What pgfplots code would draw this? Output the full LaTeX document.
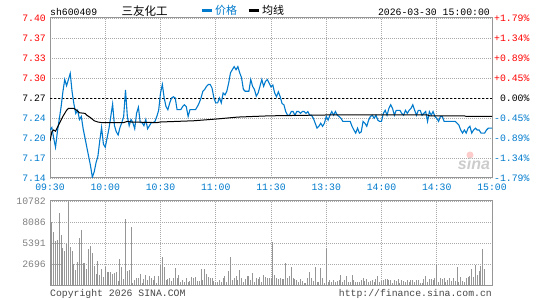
\documentclass[border=0pt]{standalone}
\usepackage{fontspec}
\setmainfont{Liberation Mono}
\newfontfamily\cjk{Noto Sans CJK SC}
\newfontfamily\sinaf{Liberation Sans}
\usepackage{pgfplots}
\pgfplotsset{compat=1.18}
\usepackage{pgfplotstable}
\definecolor{sblue}{RGB}{0,122,204}
\definecolor{sred}{RGB}{255,0,0}
\definecolor{sgrid}{RGB}{170,170,170}
\definecolor{sframe}{RGB}{150,150,150}
\definecolor{svol}{RGB}{150,150,150}
\definecolor{sgray}{RGB}{128,128,128}
\definecolor{sfoot}{RGB}{70,70,70}
\newcommand\lf{\fontsize{9.8bp}{11bp}\selectfont}
\newcommand\rl[1]{\makebox[35.3bp][r]{#1}}

\pgfplotstableread{
t p
0 7.218
1 7.222
2 7.205
3 7.190
4 7.215
5 7.235
6 7.255
7 7.280
8 7.300
9 7.290
10 7.300
11 7.310
12 7.280
13 7.260
14 7.245
15 7.250
16 7.235
17 7.240
18 7.220
19 7.205
20 7.190
21 7.175
22 7.160
23 7.141
24 7.150
25 7.165
26 7.175
27 7.200
28 7.222
29 7.195
30 7.190
31 7.205
32 7.220
33 7.240
34 7.260
35 7.225
36 7.215
37 7.210
38 7.222
39 7.230
40 7.240
41 7.283
42 7.240
43 7.225
44 7.235
45 7.230
46 7.220
47 7.245
48 7.255
49 7.230
50 7.230
51 7.225
52 7.235
53 7.220
54 7.225
55 7.230
56 7.230
57 7.232
58 7.240
59 7.250
60 7.278
61 7.292
62 7.270
63 7.256
64 7.251
65 7.262
66 7.270
67 7.272
68 7.270
69 7.251
70 7.251
71 7.251
72 7.256
73 7.259
74 7.256
75 7.240
76 7.251
77 7.251
78 7.251
79 7.251
80 7.256
81 7.262
82 7.270
83 7.281
84 7.284
85 7.289
86 7.292
87 7.292
88 7.286
89 7.270
90 7.262
91 7.262
92 7.270
93 7.262
94 7.278
95 7.275
96 7.281
97 7.294
98 7.311
99 7.316
100 7.321
101 7.316
102 7.321
103 7.311
104 7.303
105 7.284
106 7.281
107 7.281
108 7.281
109 7.300
110 7.289
111 7.284
112 7.273
113 7.278
114 7.289
115 7.300
116 7.289
117 7.297
118 7.300
119 7.294
120 7.288
121 7.291
122 7.278
123 7.272
124 7.280
125 7.272
126 7.261
127 7.259
128 7.248
129 7.242
130 7.242
131 7.248
132 7.248
133 7.242
134 7.248
135 7.248
136 7.245
137 7.248
138 7.248
139 7.245
140 7.248
141 7.242
142 7.242
143 7.237
144 7.229
145 7.221
146 7.224
147 7.229
148 7.224
149 7.229
150 7.240
151 7.234
152 7.242
153 7.248
154 7.242
155 7.248
156 7.242
157 7.240
158 7.237
159 7.232
160 7.232
161 7.232
162 7.232
163 7.232
164 7.224
165 7.218
166 7.213
167 7.221
168 7.213
169 7.215
170 7.232
171 7.229
172 7.224
173 7.234
174 7.240
175 7.242
176 7.237
177 7.242
178 7.234
179 7.232
180 7.232
181 7.245
182 7.250
183 7.242
184 7.253
185 7.259
186 7.253
187 7.242
188 7.250
189 7.250
190 7.250
191 7.245
192 7.242
193 7.250
194 7.245
195 7.250
196 7.253
197 7.259
198 7.250
199 7.242
200 7.250
201 7.250
202 7.242
203 7.245
204 7.248
205 7.232
206 7.248
207 7.242
208 7.248
209 7.240
210 7.237
211 7.232
212 7.240
213 7.240
214 7.232
215 7.232
216 7.232
217 7.232
218 7.232
219 7.232
220 7.232
221 7.229
222 7.226
223 7.218
224 7.213
225 7.218
226 7.213
227 7.221
228 7.224
229 7.213
230 7.218
231 7.221
232 7.218
233 7.218
234 7.213
235 7.213
236 7.213
237 7.218
238 7.221
239 7.221
240 7.221
}\pricetab

\pgfplotstableread{
t a
0 7.200
1 7.215
2 7.218
3 7.216
4 7.222
5 7.228
6 7.234
7 7.240
8 7.245
9 7.250
10 7.253
13 7.253
14.5 7.250
16 7.246
19 7.245
20 7.242
22 7.238
24 7.233
26 7.231
28 7.230
40 7.230
42 7.232
44 7.231
58 7.230
60 7.231
78 7.233
91 7.236
102 7.239
119 7.241
150 7.2424
205 7.2424
206 7.241
225 7.241
226 7.240
240 7.240
}\avgtab

\pgfplotstableread{
t v
0 2150
1 8100
2 6800
3 5680
4 5750
5 9290
6 6450
7 4740
8 4400
9 5200
10 10782
11 4900
12 4300
13 2700
14 1950
15 2950
16 6050
17 7050
18 2800
19 2800
20 2070
21 4650
22 5000
23 4150
24 2500
25 1380
26 3100
27 1300
28 2070
29 1080
30 2280
31 1640
32 1640
33 1640
34 1380
35 1550
36 1680
37 520
38 3320
39 2330
40 780
41 8530
42 1800
43 1980
44 7460
45 215
46 650
47 860
48 860
49 1380
50 215
51 730
52 1300
53 600
54 1100
55 950
56 650
57 1200
58 215
59 1200
60 2600
61 3550
62 2250
63 650
64 780
65 950
66 520
67 860
68 2150
69 860
70 1300
71 430
72 650
73 430
74 860
75 345
76 520
77 1080
78 950
79 1030
80 520
81 520
82 2070
83 650
84 2070
85 1380
86 1030
87 860
88 950
89 520
90 345
91 430
92 650
93 430
94 860
95 1200
96 430
97 1810
98 3580
99 650
100 950
101 1200
102 650
103 1940
104 860
105 345
106 780
107 1200
108 1200
109 650
110 1500
111 430
112 860
113 730
114 1080
115 430
116 1300
117 1030
118 860
119 860
120 950
121 5500
122 1300
123 860
124 780
125 860
126 780
127 780
128 2800
129 860
130 1200
131 2300
132 950
133 780
134 650
135 430
136 780
137 520
138 215
139 215
140 860
141 1640
142 860
143 520
144 2370
145 345
146 345
147 2150
148 950
149 215
150 4740
151 345
152 650
153 345
154 650
155 345
156 520
157 650
158 1300
159 430
160 650
161 1200
162 345
163 345
164 1300
165 650
166 345
167 345
168 430
169 650
170 950
171 520
172 780
173 345
174 520
175 650
176 430
177 780
178 1200
179 345
180 520
181 650
182 780
183 780
184 650
185 650
186 215
187 650
188 520
189 780
190 215
191 650
192 520
193 430
194 650
195 430
196 650
197 650
198 345
199 650
200 650
201 215
202 215
203 780
204 1200
205 345
206 780
207 780
208 650
209 860
210 2670
211 430
212 860
213 780
214 950
215 430
216 650
217 860
218 520
219 950
220 520
221 2370
222 430
223 1080
224 520
225 430
226 860
227 1080
228 1200
229 2000
230 1000
231 2600
232 1300
233 1800
234 2400
235 4600
236 2000
}\voltab

\begin{document}
\begin{tikzpicture}[x=1bp,y=1bp]
\useasboundingbox (0,0) rectangle (545bp,300bp);
% price panel
\begin{axis}[name=price, at={(50bp,122bp)}, anchor=south west, width=442bp, height=160bp, scale only axis,
  xmin=0, xmax=240, ymin=7.14, ymax=7.40,
  xtick={0,30,...,240},
  xticklabels={09:30,10:00,10:30,11:00,11:30,13:30,14:00,14:30,15:00},
  ytick={7.14,7.1725,7.205,7.2375,7.27,7.3025,7.335,7.3675,7.40},
  yticklabels={\textcolor{sblue}{7.14},\textcolor{sblue}{7.17},\textcolor{sblue}{7.20},\textcolor{sblue}{7.24},7.27,\textcolor{sred}{7.30},\textcolor{sred}{7.33},\textcolor{sred}{7.37},\textcolor{sred}{7.40}},
  xticklabel style={font=\lf, text=sblue, inner sep=0pt, anchor=north, yshift=-6bp},
  yticklabel style={font=\lf, inner sep=0pt, anchor=east, xshift=-4bp},
  major tick length=0pt,
  grid=major, major grid style={sgrid, line width=0.8bp, dash pattern=on 1bp off 1bp},
  axis line style={sframe, line width=1bp},
  legend style={at={(axis description cs:0.3394,1)}, anchor=west, yshift=7bp, draw=none, fill=none, inner sep=0pt,
     legend columns=2, font=\cjk\fontsize{11bp}{12bp}\selectfont,
     /tikz/every even column/.append style={column sep=8bp}},
  legend image code/.code={\draw[#1, line width=3bp] (0bp,0bp) -- (10bp,0bp);},
]
\addplot[black, line width=0.8bp, dash pattern=on 2bp off 2bp, forget plot] coordinates {(0,7.27) (240,7.27)};
\addplot[sblue, line width=1.1bp] table[x=t, y=p] {\pricetab};
\addlegendentry{\textcolor{sblue}{价格}}
\addplot[black, line width=1bp] table[x=t, y=a] {\avgtab};
\addlegendentry{均线}
\end{axis}
% right percent labels
\begin{axis}[at={(50bp,122bp)}, anchor=south west, width=442bp, height=160bp, scale only axis,
  xmin=0, xmax=240, ymin=7.14, ymax=7.40,
  axis x line=none, axis y line*=right, axis line style={draw=none},
  ytick={7.14,7.1725,7.205,7.2375,7.27,7.3025,7.335,7.3675,7.40},
  yticklabels={\textcolor{sblue}{\rl{-1.79\%}},\textcolor{sblue}{\rl{-1.34\%}},\textcolor{sblue}{\rl{-0.89\%}},\textcolor{sblue}{\rl{-0.45\%}},\rl{0.00\%},\textcolor{sred}{\rl{+0.45\%}},\textcolor{sred}{\rl{+0.89\%}},\textcolor{sred}{\rl{+1.34\%}},\textcolor{sred}{\rl{+1.79\%}}},
  yticklabel style={font=\lf, inner sep=0pt, anchor=west, xshift=2bp},
  major tick length=0pt,
]
\addplot[draw=none, forget plot] coordinates {(0,7.27)};
\end{axis}
% volume panel
\begin{axis}[at={(50bp,15bp)}, anchor=south west, width=442bp, height=84bp, scale only axis,
  xmin=0, xmax=240, ymin=0, ymax=10782,
  xtick={0,30,...,240}, xticklabels={},
  ytick={2696,5391,8086,10782},
  yticklabels={2696,5391,8086,10782},
  scaled y ticks=false,
  yticklabel style={font=\lf, text=sgray, inner sep=0pt, anchor=east, xshift=-4bp},
  major tick length=0pt,
  grid=major, major grid style={sgrid, line width=0.8bp, dash pattern=on 1bp off 1bp},
  axis line style={sframe, line width=1bp},
]
\addplot[ycomb, svol, line width=1bp, no marks] table[x=t, y=v] {\voltab};
\end{axis}
% texts
\node[anchor=base west, inner sep=0pt, font=\lf] at (50,285) {sh600409};
\node[anchor=base, inner sep=0pt, font=\cjk\fontsize{11.5bp}{12bp}\selectfont] at (144.5,285) {三友化工};
\node[anchor=base east, inner sep=0pt, font=\lf] at (490,285) {2026-03-30 15:00:00};
\node[anchor=base west, inner sep=0pt, font=\lf, text=sfoot] at (50,4) {Copyright 2026 SINA.COM};
\node[anchor=base east, inner sep=0pt, font=\lf, text=sfoot] at (492,4) {http://finance.sina.com.cn};
% watermark
\fill[red!20] (470,145) circle (3.5bp);
\node[anchor=base, inner sep=0pt, font=\sinaf\bfseries\itshape\fontsize{16bp}{16bp}\selectfont, text=black!20] at (474,131) {sina};
\end{tikzpicture}
\end{document}
